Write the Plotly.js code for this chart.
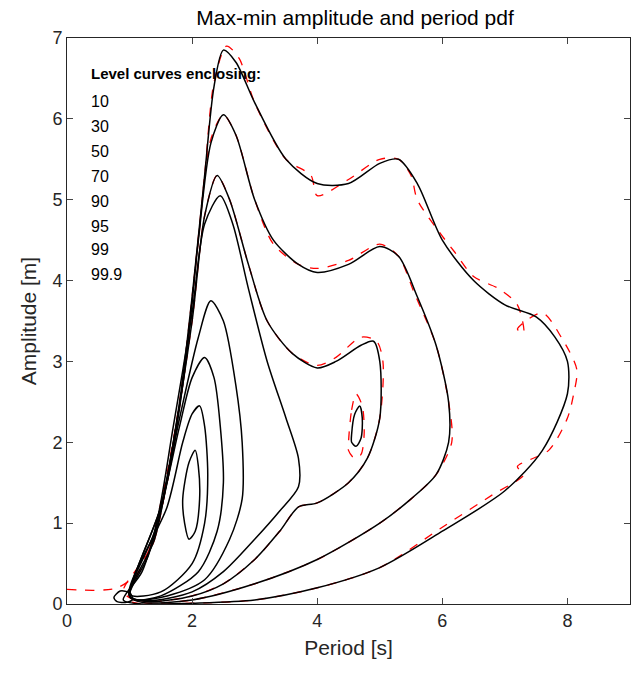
<!DOCTYPE html>
<html><head><meta charset="utf-8">
<script src="https://cdn.plot.ly/plotly-3.0.1.min.js"></script>
<style>body{margin:0}#plot{width:634px;height:684px}</style>
</head><body><div id="plot"></div>
<script>
// level curves (period [s], amplitude [m])
var c999x = [0.9,1.2,1.5,1.8,2.0,2.2,2.35,2.5,2.7,3.0,3.5,4.0,4.5,5.0,5.3,5.6,6.0,6.5,7.0,7.5,7.8,8.0,8.0,7.6,7.0,6.0,5.0,4.0,3.0,2.0,1.2,0.9];
var c999y = [0.05,0.4,1.2,2.5,3.8,5.3,6.4,6.85,6.7,6.2,5.5,5.2,5.2,5.45,5.5,5.2,4.5,4.0,3.7,3.55,3.3,3.0,2.6,1.9,1.4,0.9,0.45,0.2,0.05,0.01,0.0,0.05];
var c99x = [1.0,1.3,1.6,1.9,2.1,2.3,2.5,2.7,3.0,3.3,3.7,4.0,4.5,5.0,5.3,5.6,5.9,6.1,6.1,5.9,5.5,5.0,4.0,3.0,2.0,1.2,1.0];
var c99y = [0.1,0.6,1.5,3.0,4.5,5.7,6.05,5.8,5.0,4.5,4.2,4.1,4.2,4.42,4.3,3.8,3.2,2.5,2.0,1.6,1.3,1.0,0.55,0.25,0.05,0.02,0.1];
var c95x = [1.0,1.4,1.7,2.0,2.2,2.4,2.6,2.9,3.2,3.6,4.0,4.3,4.7,4.9,5.0,5.0,4.8,4.5,4.0,3.7,3.4,3.0,2.5,2.0,1.3,1.0];
var c95y = [0.1,0.8,2.0,3.5,4.8,5.3,5.0,4.2,3.5,3.1,2.92,3.0,3.2,3.25,3.0,2.3,1.8,1.5,1.25,1.2,0.9,0.55,0.25,0.1,0.03,0.1];
var c95bx = [4.55,4.6,4.68,4.72,4.7,4.62,4.55,4.55];
var c95by = [2.1,2.35,2.45,2.3,2.05,1.95,2.0,2.1];
var c90x = [1.0,1.4,1.7,2.0,2.2,2.45,2.65,2.9,3.2,3.5,3.7,3.7,3.4,3.0,2.5,2.0,1.3,1.0];
var c90y = [0.1,0.9,2.2,3.6,4.7,5.05,4.7,3.9,3.0,2.3,1.8,1.45,1.15,0.8,0.4,0.15,0.04,0.1];
var c70x = [1.0,1.5,1.8,2.1,2.3,2.5,2.7,2.8,2.8,2.6,2.2,1.6,1.1,1.0];
var c70y = [0.1,1.2,2.3,3.3,3.75,3.5,2.7,2.0,1.3,0.8,0.3,0.1,0.05,0.1];
var c50x = [1.0,1.5,1.8,2.0,2.2,2.35,2.45,2.5,2.4,2.1,1.5,1.1,1.0];
var c50y = [0.1,1.2,2.2,2.8,3.05,2.8,2.2,1.5,0.9,0.4,0.1,0.05,0.1];
var c30x = [1.0,1.6,1.85,2.0,2.12,2.2,2.25,2.2,2.0,1.5,1.0];
var c30y = [0.12,1.2,2.0,2.35,2.45,2.2,1.6,1.0,0.5,0.15,0.12];
var c10x = [1.85,1.95,2.05,2.1,2.12,2.05,1.95,1.88,1.85];
var c10y = [1.3,1.75,1.9,1.7,1.3,0.9,0.8,1.0,1.3];
var cSmallx = [0.75,0.85,1.0,1.05,0.95,0.8,0.75];
var cSmally = [0.08,0.16,0.14,0.06,0.02,0.03,0.08];
// red dashed: empirical level curves
var r999x = [0.0,0.8,1.2,1.5,1.8,2.0,2.2,2.35,2.55,2.75,3.0,3.5,3.9,4.0,4.5,5.0,5.3,5.5,5.6,6.0,6.2,6.5,6.9,7.2,7.3,7.2,7.6,7.9,8.15,8.1,8.0,7.7,7.2,7.3,6.8,6.0,5.0,4.0,3.0,2.0,1.2,0.9];
var r999y = [0.18,0.2,0.45,1.25,2.5,3.8,5.3,6.45,6.9,6.75,6.2,5.5,5.3,5.05,5.25,5.5,5.5,5.3,5.0,4.55,4.35,4.05,3.9,3.7,3.35,3.4,3.6,3.3,2.9,2.6,2.3,1.9,1.7,1.6,1.35,0.95,0.45,0.2,0.05,0.01,0.0,0.05];
var r99x = [0.9,1.3,1.6,1.9,2.1,2.3,2.5,2.7,3.0,3.3,3.7,4.0,4.5,5.0,5.3,5.55,5.9,6.1,6.15,5.9,5.5,5.0,4.0,3.0,2.0,1.2,0.9];
var r99y = [0.15,0.65,1.5,3.0,4.5,5.75,6.05,5.8,5.0,4.45,4.2,4.15,4.25,4.45,4.3,3.85,3.2,2.5,2.0,1.6,1.3,1.0,0.55,0.25,0.05,0.02,0.15];
var r95x = [1.0,1.4,1.7,2.0,2.2,2.4,2.6,2.9,3.2,3.6,4.0,4.3,4.7,4.95,5.05,5.0,4.8,4.5,4.0,3.7,3.4,3.0,2.5,2.0,1.3,1.0];
var r95y = [0.1,0.8,2.0,3.5,4.8,5.3,5.0,4.2,3.5,3.1,2.95,3.05,3.3,3.25,3.0,2.3,1.8,1.5,1.25,1.2,0.9,0.55,0.25,0.1,0.03,0.1];
var r95bx = [4.5,4.55,4.62,4.72,4.75,4.7,4.6,4.5,4.5];
var r95by = [2.0,2.4,2.6,2.45,2.1,1.85,1.8,1.9,2.0];

var levels = ['10','30','50','70','90','95','99','99.9'];
var levelY = [6.22,5.91,5.60,5.29,4.98,4.67,4.38,4.08];

var solid = [[c999x,c999y],[c99x,c99y],[c95x,c95y],[c95bx,c95by],[c90x,c90y],[c70x,c70y],[c50x,c50y],[c30x,c30y],[c10x,c10y],[cSmallx,cSmally]];
var dashed = [[r999x,r999y],[r99x,r99y],[r95x,r95y],[r95bx,r95by]];

var traces = [];
dashed.forEach(function(c){
    traces.push({x:c[0], y:c[1], mode:'lines', type:'scatter', line:{color:'red', width:1.3, dash:'dash', shape:'spline', smoothing:0.8}, hoverinfo:'skip'});
});
solid.forEach(function(c){
    traces.push({x:c[0], y:c[1], mode:'lines', type:'scatter', line:{color:'black', width:1.5, shape:'spline', smoothing:0.8}, hoverinfo:'skip'});
});

var ann = [{x:0.35, y:6.56, xref:'x', yref:'y', xanchor:'left', showarrow:false, text:'<b>Level curves enclosing:</b>', font:{size:15, color:'black'}}];
for (var i = 0; i < levels.length; i++) {
    ann.push({x:0.35, y:levelY[i], xref:'x', yref:'y', xanchor:'left', showarrow:false, text:levels[i], font:{size:16, color:'black'}});
}

var layout = {
    font:{family:'Liberation Sans, Arial, sans-serif', color:'#262626'},
    title:{text:'Max-min amplitude and period pdf', font:{size:21, color:'black'}, x:0.56, y:0.985},
    showlegend:false,
    margin:{l:67, r:4, t:38, b:80},
    paper_bgcolor:'white', plot_bgcolor:'white',
    xaxis:{range:[0,9], tickvals:[0,2,4,6,8], ticks:'inside', ticklen:6, showgrid:false, zeroline:false,
        linecolor:'#262626', linewidth:1, mirror:'ticks', tickfont:{size:18},
        title:{text:'Period [s]', font:{size:21}, standoff:10}},
    yaxis:{range:[0,7], dtick:1, ticks:'inside', ticklen:6, showgrid:false, zeroline:false,
        linecolor:'#262626', linewidth:1, mirror:'ticks', tickfont:{size:18},
        title:{text:'Amplitude [m]', font:{size:21}, standoff:10}},
    annotations:ann
};
Plotly.newPlot('plot', traces, layout, {staticPlot:true});
</script>
</body></html>
